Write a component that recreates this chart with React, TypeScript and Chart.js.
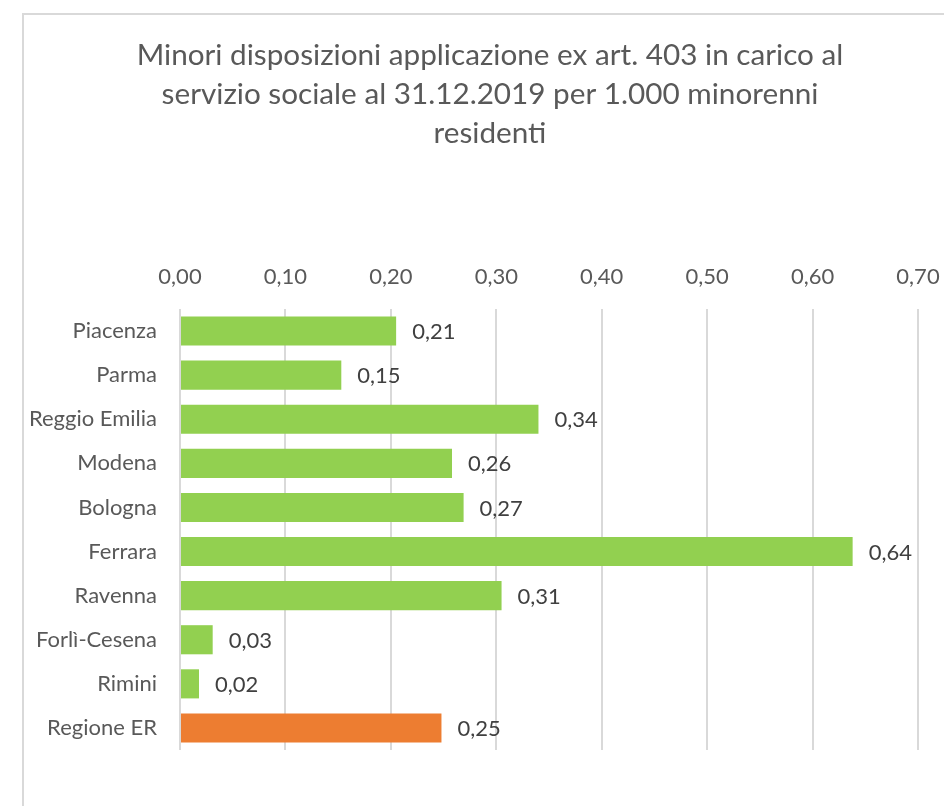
import React, { useEffect, useRef } from "react";
import { Chart, registerables } from "chart.js";

Chart.register(...registerables);

const titleLines = [
  "Minori disposizioni applicazione ex art. 403 in carico al",
  "servizio sociale al 31.12.2019 per 1.000 minorenni",
  "residenti",
];
const categories = [
  "Piacenza",
  "Parma",
  "Reggio Emilia",
  "Modena",
  "Bologna",
  "Ferrara",
  "Ravenna",
  "Forlì-Cesena",
  "Rimini",
  "Regione ER",
];
const values = [0.205, 0.153, 0.34, 0.258, 0.269, 0.638, 0.305, 0.031, 0.018, 0.248];
const valueLabels = ["0,21", "0,15", "0,34", "0,26", "0,27", "0,64", "0,31", "0,03", "0,02", "0,25"];
const barColors = [
  "#92d050", "#92d050", "#92d050", "#92d050", "#92d050",
  "#92d050", "#92d050", "#92d050", "#92d050", "#ed7d31",
];
const axisMin = 0;
const axisMax = 0.7;
const axisStep = 0.1;

const FONT = "Lato, 'Open Sans', sans-serif";

const valueLabelPlugin = {
  id: "valueLabels",
  afterDatasetsDraw(chart: any) {
    const ctx = chart.ctx;
    const meta = chart.getDatasetMeta(0);
    ctx.save();
    ctx.font = `22px ${FONT}`;
    ctx.fillStyle = "#404040";
    ctx.textAlign = "left";
    ctx.textBaseline = "middle";
    meta.data.forEach((bar: any, i: number) => {
      ctx.fillText(valueLabels[i], bar.x + 16, bar.y + 1);
    });
    ctx.restore();
  },
};

export default function App() {
  const ref = useRef<HTMLCanvasElement | null>(null);
  useEffect(() => {
    if (!ref.current) return;
    const chart = new Chart(ref.current, {
      type: "bar",
      data: {
        labels: categories,
        datasets: [
          {
            data: values,
            backgroundColor: barColors,
            barPercentage: 0.66,
            categoryPercentage: 1,
          },
        ],
      },
      options: {
        indexAxis: "y",
        animation: false,
        responsive: false,
        maintainAspectRatio: false,
        devicePixelRatio: 1,
        layout: { padding: { left: 26, right: -10, top: 0, bottom: 56 } },
        plugins: {
          legend: { display: false },
          tooltip: { enabled: false },
          title: {
            display: true,
            text: titleLines,
            color: "#595959",
            font: { family: FONT, size: 29.7, weight: "normal", lineHeight: 39 / 29.7 },
            padding: { top: 36, bottom: 102 },
          },
        },
        scales: {
          x: {
            position: "top",
            min: axisMin,
            max: axisMax,
            border: { display: false },
            grid: { color: "#d9d9d9", lineWidth: 2, drawTicks: false },
            ticks: {
              stepSize: axisStep,
              color: "#595959",
              font: { family: FONT, size: 22 },
              padding: 19,
              maxRotation: 0,
              callback: (v: any) => Number(v).toFixed(2).replace(".", ","),
            },
            afterFit: (s: any) => {
              s.height = 54;
              s.paddingLeft = 0;
              s.paddingRight = 26;
            },
          },
          y: {
            border: { display: false },
            grid: { display: false, drawTicks: false },
            ticks: {
              color: "#595959",
              font: { family: FONT, size: 22 },
              padding: 23,
            },
            afterFit: (s: any) => {
              s.width = 154;
              s.paddingTop = 0;
              s.paddingBottom = 0;
            },
          },
        },
      },
      plugins: [valueLabelPlugin],
    });
    return () => chart.destroy();
  }, []);

  return (
    <div
      style={{
        position: "fixed",
        left: 0,
        top: 0,
        width: 944,
        height: 806,
        overflow: "hidden",
        background: "#fff",
      }}
    >
      <div
        style={{
          position: "absolute",
          left: 22,
          top: 13,
          width: 960,
          height: 820,
          border: "2px solid #d9d9d9",
          boxSizing: "border-box",
        }}
      />
      <canvas
        ref={ref}
        width={944}
        height={806}
        style={{ position: "absolute", left: 0, top: 0, width: 944, height: 806 }}
      />
    </div>
  );
}
